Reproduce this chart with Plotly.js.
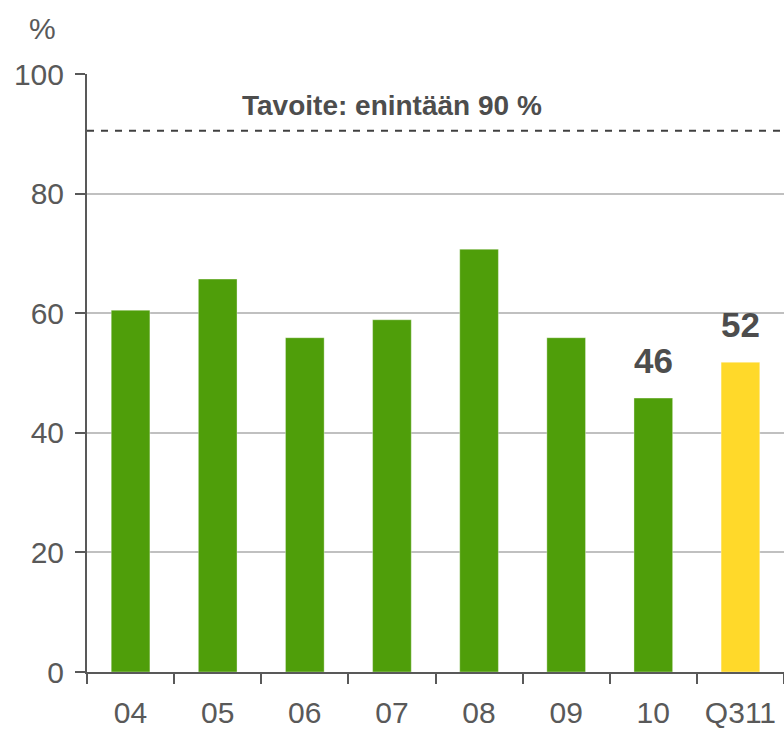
<!DOCTYPE html>
<html>
<head>
<meta charset="utf-8">
<script src="https://cdn.plot.ly/plotly-3.0.1.min.js"></script>
<style>html,body{margin:0;padding:0;background:#fff;}#chart{width:784px;height:729px;}</style>
</head>
<body>
<div id="chart"></div>
<script>
const categories = ['04', '05', '06', '07', '08', '09', '10', 'Q311'];
const values = [60.5, 65.7, 55.9, 58.9, 70.7, 55.9, 45.8, 51.8];
const barColors = ['#4f9e0a', '#4f9e0a', '#4f9e0a', '#4f9e0a', '#4f9e0a', '#4f9e0a', '#4f9e0a', '#ffd92a'];
const labeledIndex = [6, 7];
const labelTexts = ['46', '52'];
const targetValue = 90.5;
const targetText = 'Tavoite: enintään 90 %';
const yTicks = [0, 20, 40, 60, 80, 100];

const font = 'Liberation Sans, Arial, sans-serif';

const trace = {
  type: 'bar',
  x: categories,
  y: values,
  marker: {color: barColors, line: {width: 1, color: 'rgba(255,255,255,0.35)'}},
  hoverinfo: 'skip'
};

const annotations = labeledIndex.map((idx, i) => ({
  x: idx, y: values[idx], xref: 'x', yref: 'y',
  text: '<b>' + labelTexts[i] + '</b>', showarrow: false,
  xanchor: 'center', yanchor: 'middle', yshift: 38,
  font: {family: font, size: 35, color: '#4d4d4d'}
}));
annotations.push({
  x: 0.437, y: (672 - 106) / 598, xref: 'paper', yref: 'paper', text: '<b>' + targetText + '</b>',
  showarrow: false, xanchor: 'center', yanchor: 'middle',
  font: {family: font, size: 28, color: '#4d4d4d'}
});
annotations.push({
  x: (42 - 87) / 697, y: (672 - 29) / 598, xref: 'paper', yref: 'paper', text: '%', showarrow: false,
  xanchor: 'center', yanchor: 'middle',
  font: {family: font, size: 30, color: '#595959'}
});

const layout = {
  width: 784, height: 729,
  margin: {l: 87, r: 0, t: 74, b: 57, pad: 0},
  paper_bgcolor: '#ffffff', plot_bgcolor: '#ffffff',
  bargap: 0.556,
  showlegend: false,
  xaxis: {
    type: 'category', range: [-0.5, 7.5], showline: true, linecolor: '#595959', linewidth: 2,
    ticks: 'outside', tickson: 'boundaries', ticklen: 10, tickwidth: 2, tickcolor: '#595959',
    tickangle: 0,
    tickfont: {family: font, size: 30, color: '#595959'}, ticklabelstandoff: 13,
    showgrid: false, zeroline: false, fixedrange: true
  },
  yaxis: {
    range: [0, 100], tickvals: yTicks, showline: true, linecolor: '#595959', linewidth: 2,
    ticks: 'outside', ticklen: 10, tickwidth: 2, tickcolor: '#595959',
    tickfont: {family: font, size: 30, color: '#595959'}, ticklabelstandoff: 5,
    showgrid: true, gridcolor: '#c0c0c0', gridwidth: 2, zeroline: false, fixedrange: true
  },
  shapes: [{
    type: 'line', xref: 'paper', yref: 'y', x0: 0, x1: 1, y0: targetValue, y1: targetValue,
    line: {color: '#404040', width: 2, dash: '7px,7px'}
  }],
  annotations: annotations
};

Plotly.newPlot('chart', [trace], layout, {displayModeBar: false, staticPlot: true});
</script>
</body>
</html>
